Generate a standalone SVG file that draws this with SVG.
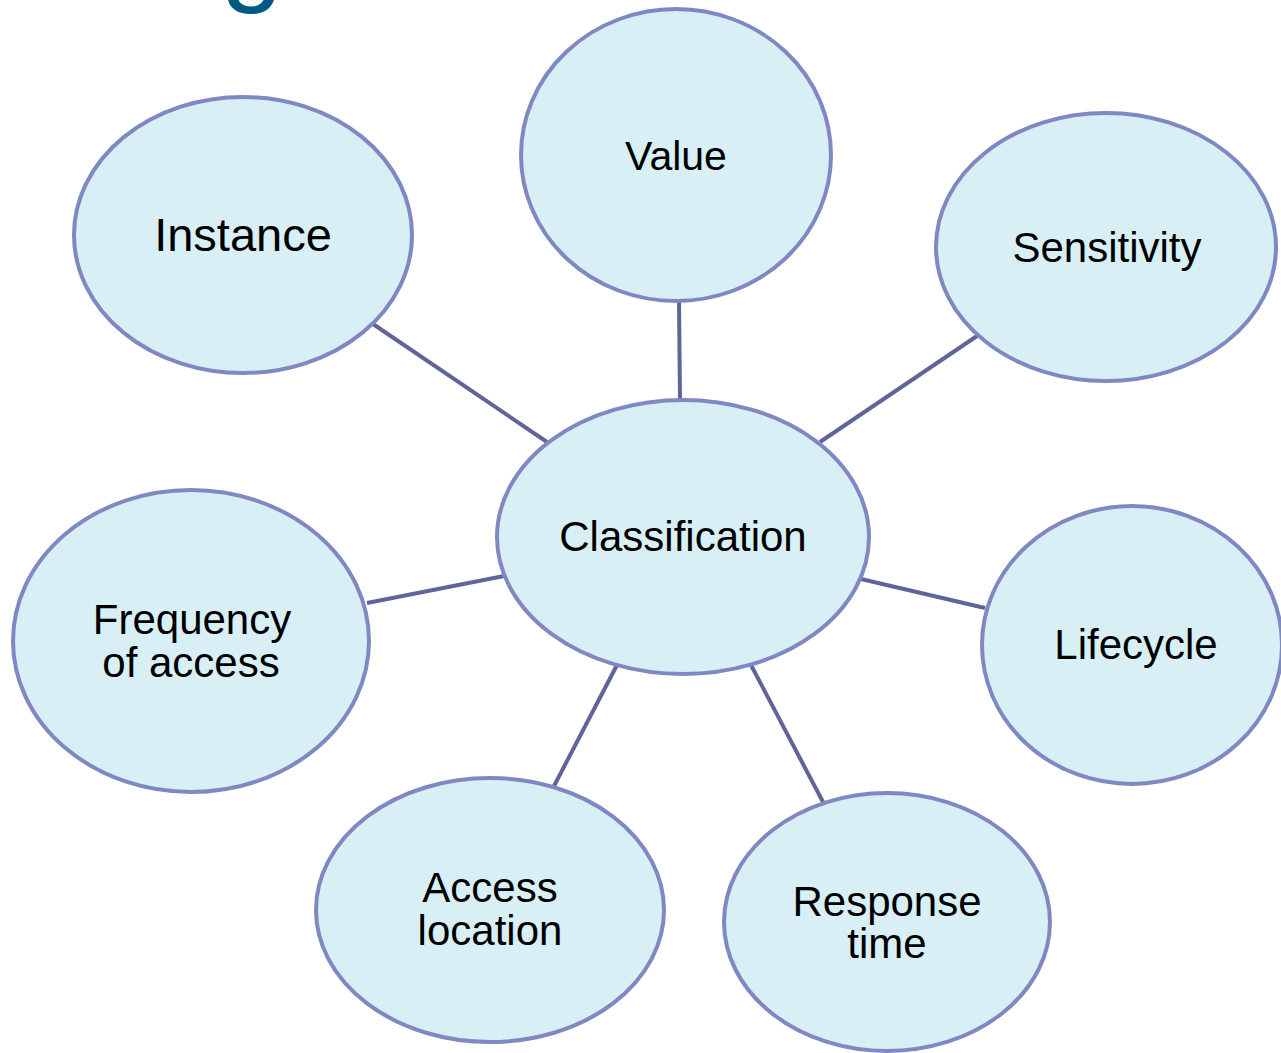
<svg xmlns="http://www.w3.org/2000/svg" width="1281" height="1053" viewBox="0 0 1281 1053">
<style>
.n{fill:#d7eff5;stroke:#8088c4;stroke-width:4}
.t{font-family:"Liberation Sans",Arial,sans-serif;font-size:42px;fill:#000;text-anchor:middle}
.c line{stroke:#5f6598;stroke-width:4}
</style>
<rect width="1281" height="1053" fill="#fff"/>
<text x="252" y="-9" style="font-family:'Liberation Sans',Arial,sans-serif;font-size:112px;fill:#005a84" text-anchor="middle">g</text>
<g class="c" id="connectors">
<line x1="373" y1="324" x2="547" y2="442"/>
<line x1="679" y1="302" x2="680" y2="400"/>
<line x1="977" y1="336" x2="820" y2="442"/>
<line x1="367" y1="603" x2="504" y2="576"/>
<line x1="861" y1="579" x2="985" y2="608"/>
<line x1="617" y1="665" x2="554" y2="786"/>
<line x1="751" y1="665" x2="823" y2="802"/>
</g>
<g id="instance"><ellipse class="n" cx="243" cy="235" rx="169" ry="138"/><text class="t" x="243" y="251" style="font-size:47px">Instance</text></g>
<g id="value"><ellipse class="n" cx="676" cy="155" rx="155" ry="146"/><text class="t" x="676" y="170" style="font-size:41px">Value</text></g>
<g id="sensitivity"><ellipse class="n" cx="1106" cy="247" rx="170" ry="134"/><text class="t" x="1107" y="262">Sensitivity</text></g>
<g id="classification"><ellipse class="n" cx="683" cy="537" rx="186" ry="137"/><text class="t" x="683" y="551">Classification</text></g>
<g id="frequency"><ellipse class="n" cx="191" cy="641" rx="178" ry="151"/><text class="t" x="192" y="634">Frequency</text><text class="t" x="191" y="677">of access</text></g>
<g id="lifecycle"><ellipse class="n" cx="1132" cy="645" rx="150" ry="139"/><text class="t" x="1136" y="659">Lifecycle</text></g>
<g id="access"><ellipse class="n" cx="490" cy="910" rx="174" ry="132"/><text class="t" x="490" y="902">Access</text><text class="t" x="490" y="945">location</text></g>
<g id="response"><ellipse class="n" cx="887" cy="922" rx="163" ry="129"/><text class="t" x="887" y="916">Response</text><text class="t" x="887" y="958">time</text></g>
</svg>
